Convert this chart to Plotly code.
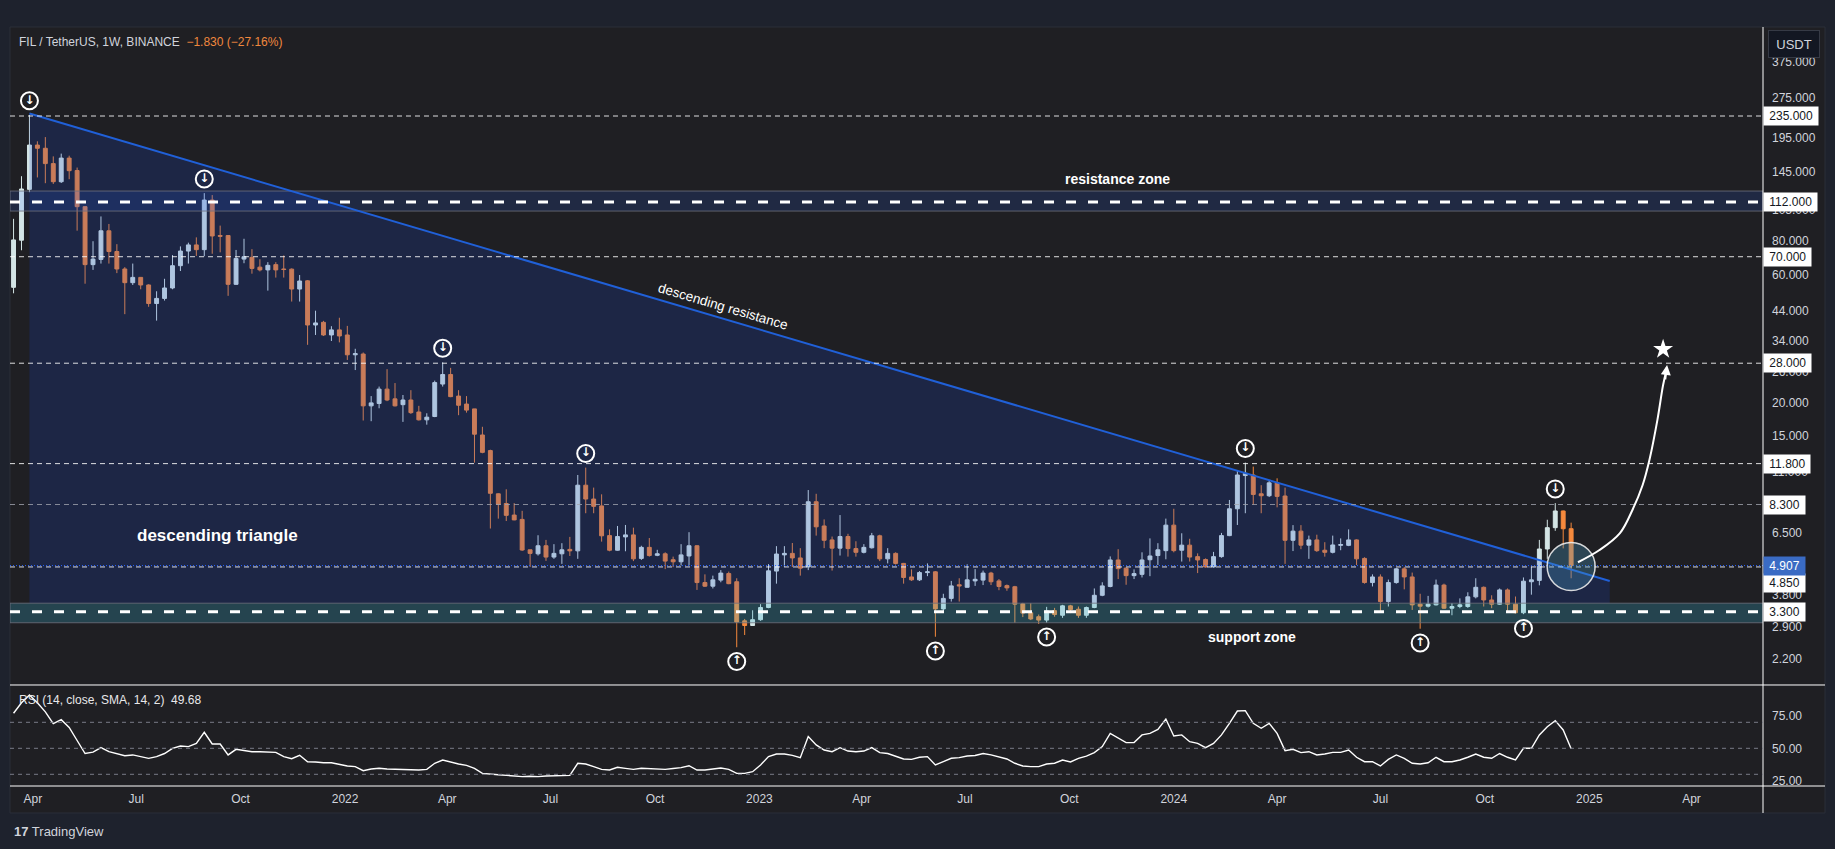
import math

import pandas as pd
import plotly.graph_objects as go

# FIL/USDT weekly candles (Binance), first bar = week of 2021-03-15
opens = [
    53.8, 80.7, 125, 183, 178, 156, 133.5, 163.6, 147, 107.7,
    65.4, 68.4, 87.5, 73.2, 63, 56, 58.6, 54.9, 46.8, 48.9,
    53.5, 64.8, 73.5, 77.5, 74.4, 114, 84, 84, 55.2, 68.6,
    69.6, 64, 62.5, 65.4, 63, 62.9, 53, 56.9, 38.9, 39.8,
    35.7, 37.3, 35.7, 30.1, 30.3, 19.4, 19.8, 22.4, 20.6, 19.6,
    20.4, 18.4, 17.2, 17.7, 23.4, 25.4, 21.1, 19.7, 18.9, 15.1,
    13.2, 9.1, 8.37, 7.58, 7.3, 5.62, 5.43, 5.82, 5.28, 5.43,
    5.64, 5.57, 9.8, 8.7, 8.2, 6.35, 5.6, 6.28, 6.39, 5.22,
    5.74, 5.36, 5.43, 5.16, 5.07, 5.33, 5.82, 4.24, 4.11, 4.33,
    4.58, 4.27, 3.05, 2.93, 3.08, 3.42, 4.68, 5.38, 5.45, 5.24,
    4.85, 8.5, 6.9, 6.12, 5.7, 6.3, 5.68, 5.5, 5.72, 6.34,
    5.2, 5.45, 5.0, 4.45, 4.34, 4.62, 4.65, 3.38, 3.7, 4.16,
    4.07, 4.3, 4.33, 4.6, 4.3, 4.13, 4.09, 3.53, 3.27, 3.16,
    3.07, 3.33, 3.2, 3.47, 3.37, 3.2, 3.42, 3.8, 4.1, 5.15,
    4.8, 4.5, 4.55, 5.16, 5.35, 5.58, 6.95, 5.6, 5.85, 5.3,
    5.17, 4.85, 5.3, 6.35, 8.0, 10.65, 10.7, 9.1, 8.95, 10.0,
    8.93, 6.1, 6.6, 5.85, 6.12, 5.6, 5.5, 5.84, 5.84, 6.12,
    5.22, 4.24, 4.45, 3.6, 4.24, 4.77, 4.45, 3.52, 3.46, 3.5,
    4.15, 3.4, 3.45, 3.45, 3.75, 4.07, 3.65, 3.52, 3.98, 3.52,
    3.27, 4.27, 4.32, 5.66, 6.8, 7.85, 6.74,
]
highs = [
    97, 140, 237, 189, 196, 166, 170, 167, 150.8, 108,
    80, 99, 92.8, 78, 64, 66, 58.8, 55.2, 52, 57.9,
    71, 76.5, 79, 82.7, 121, 119, 91.5, 84.2, 74.2, 81.7,
    74.7, 68.5, 66.8, 66.8, 70.8, 63.3, 59.8, 57.3, 44, 40.3,
    38.5, 41.4, 38.6, 31.7, 30.7, 21.1, 22.9, 26.6, 23.6, 21.3,
    22.2, 19.4, 18.2, 24.1, 28.2, 26.9, 22.2, 21.1, 18.9, 16.2,
    13.3, 9.14, 9.46, 8.4, 7.86, 5.62, 6.37, 6.12, 5.9, 5.95,
    6.28, 10.7, 11.4, 9.6, 9.06, 6.7, 6.9, 6.96, 6.8, 5.82,
    6.22, 5.62, 5.5, 5.3, 5.9, 6.54, 5.85, 4.55, 4.5, 4.72,
    4.66, 4.4, 3.1, 3.34, 3.52, 4.97, 5.8, 5.8, 5.96, 5.7,
    9.4, 9.1, 7.3, 6.3, 7.58, 6.45, 6.05, 5.9, 6.5, 6.4,
    5.7, 5.5, 5.02, 4.75, 4.68, 5.0, 4.68, 3.85, 4.3, 4.4,
    4.96, 4.76, 4.7, 4.65, 4.37, 4.17, 4.12, 3.56, 3.55, 3.22,
    3.44, 3.41, 3.5, 3.5, 3.45, 3.45, 4.03, 4.25, 5.31, 5.65,
    4.83, 4.75, 5.5, 6.2, 5.95, 7.35, 8.0, 6.48, 6.18, 5.45,
    5.22, 5.52, 6.5, 8.63, 11.1, 11.9, 11.5, 9.8, 10.2, 10.4,
    9.6, 6.95, 6.95, 6.35, 6.4, 6.0, 6.35, 6.2, 6.7, 6.15,
    5.27, 4.55, 4.55, 4.35, 4.8, 4.85, 4.62, 3.85, 3.78, 4.35,
    4.2, 3.55, 3.7, 3.9, 4.4, 4.1, 3.8, 4.03, 4.03, 3.76,
    4.43, 4.87, 6.12, 7.28, 8.4, 7.88, 7.1,
]
lows = [
    51.1, 74, 122, 138.5, 131.8, 131, 132, 136.4, 87.6, 55.5,
    62.5, 66, 66, 60.8, 42.7, 54.9, 52.9, 45.5, 40.4, 48,
    52.9, 61.9, 66, 70.5, 70.3, 71.8, 72.7, 50, 54.9, 66.2,
    60.5, 61.7, 52.3, 58.5, 58.5, 47.6, 47.6, 32.8, 35.7, 35.4,
    33.9, 33.5, 28.8, 26.4, 17.1, 17.0, 19.0, 20.2, 19.3, 16.9,
    18.1, 17.1, 16.5, 17.6, 22.9, 20.9, 17.9, 18.3, 11.9, 12.9,
    6.75, 7.35, 7.2, 7.25, 5.57, 4.85, 5.35, 5.11, 5.2, 4.98,
    5.33, 5.2, 7.7, 7.7, 6.03, 5.55, 5.58, 5.55, 5.1, 5.15,
    5.3, 5.32, 4.76, 4.84, 4.91, 4.91, 3.98, 4.08, 4.03, 4.25,
    4.18, 2.43, 2.7, 2.92, 3.05, 3.4, 4.2, 4.86, 4.85, 4.5,
    4.72, 6.35, 5.7, 4.7, 5.35, 5.3, 5.3, 5.45, 5.68, 5.1,
    5.0, 4.95, 4.2, 4.3, 4.3, 4.48, 2.66, 3.28, 3.6, 3.6,
    4.07, 4.12, 4.15, 4.15, 3.97, 3.95, 3.0, 3.15, 3.07, 2.97,
    3.0, 3.16, 3.13, 3.26, 3.13, 3.13, 3.4, 3.77, 4.07, 4.37,
    4.16, 4.37, 4.43, 4.48, 4.93, 5.18, 5.5, 5.08, 5.08, 4.6,
    4.82, 4.82, 5.25, 6.32, 6.96, 7.7, 8.3, 7.7, 8.85, 8.1,
    4.98, 5.56, 5.65, 5.2, 5.52, 5.3, 5.45, 5.6, 5.8, 4.93,
    4.2, 4.1, 3.3, 3.45, 4.2, 4.0, 3.35, 2.85, 3.42, 3.48,
    3.38, 3.2, 3.4, 3.41, 3.7, 3.45, 3.4, 3.5, 3.27, 3.25,
    3.23, 3.82, 4.14, 5.2, 6.62, 5.69, 4.4,
]
closes = [
    80.9, 125.4, 183, 178, 156, 133.5, 163.6, 146.8, 107.7, 65.4,
    68.6, 87.5, 73.2, 63, 56, 58.6, 54.9, 46.8, 48.9, 53.5,
    64.8, 73.5, 77.5, 74.4, 114, 83.7, 83.5, 55.2, 69, 70,
    63.3, 62.5, 65, 62.5, 62.7, 53, 56.8, 38.9, 39.6, 35.7,
    37.3, 35.4, 30.1, 30.4, 19.4, 19.9, 22.4, 20.4, 19.4, 20.4,
    18.3, 17.2, 17.6, 23.7, 25.4, 21.0, 19.5, 18.7, 15.2, 13.0,
    9.14, 8.3, 7.56, 7.27, 5.61, 5.45, 5.82, 5.28, 5.45, 5.62,
    5.57, 9.8, 8.7, 8.17, 6.34, 5.6, 6.3, 6.39, 5.2, 5.74,
    5.35, 5.43, 5.1, 5.07, 5.38, 5.82, 4.24, 4.11, 4.34, 4.6,
    4.2, 3.02, 2.93, 3.08, 3.42, 4.69, 5.42, 5.45, 5.24, 4.8,
    8.5, 6.85, 6.1, 5.7, 6.3, 5.68, 5.5, 5.74, 6.34, 5.2,
    5.45, 5.0, 4.43, 4.34, 4.62, 4.65, 3.38, 3.7, 4.12, 4.12,
    4.34, 4.36, 4.6, 4.27, 4.1, 4.05, 3.52, 3.26, 3.1, 3.07,
    3.32, 3.22, 3.47, 3.36, 3.2, 3.42, 3.8, 4.12, 5.15, 4.78,
    4.5, 4.58, 5.15, 5.33, 5.62, 6.95, 5.58, 5.85, 5.28, 5.15,
    4.85, 5.3, 6.35, 8.0, 10.7, 10.85, 9.05, 8.95, 10.0, 8.9,
    6.1, 6.6, 5.85, 6.12, 5.58, 5.5, 5.86, 5.88, 6.12, 5.2,
    4.24, 4.45, 3.6, 4.24, 4.77, 4.45, 3.5, 3.46, 3.52, 4.15,
    3.4, 3.45, 3.5, 3.75, 4.07, 3.65, 3.52, 3.98, 3.52, 3.27,
    4.29, 4.34, 5.66, 6.8, 7.85, 6.737, 4.907,
]
rsi = [
    77, 85, 91, 85, 78, 69, 72, 66, 56, 46,
    47, 50.5, 47.4, 45.6, 44.3, 44.9, 43.6, 42.3, 43.6, 46,
    50, 51.8, 51.3, 53.8, 62.3, 53.3, 53.3, 44.9, 49.2, 48.2,
    47.4, 47.4, 46.9, 46.9, 43.6, 42, 44.6, 39.7, 39.5, 38.9,
    38.9, 37.7, 36.4, 35.9, 32.8, 34.1, 34.6, 34.1, 33.8, 33.5,
    33.3, 33.3, 33.8, 38.5, 41, 39.2, 37.9, 36.9, 34.6, 30.7,
    30, 29.7, 29.2, 28.8, 28.2, 28.5, 28.2, 28.7, 28.7, 29,
    29.2, 38.5, 37.9, 35.9, 33.8, 33.3, 35.4, 34.6, 33.8, 34.6,
    34.3, 34.3, 33.8, 34.5, 35.1, 36.6, 33.3, 33.3, 34.3, 34.8,
    33.8, 30.7, 30.7, 32, 37.2, 43.6, 45.6, 45.6, 44.6, 42.8,
    59, 52.6, 48.7, 47.4, 50.5, 47.9, 47.4, 47.9, 50.5, 46.7,
    46, 43.6, 41.8, 41.5, 43.1, 43.6, 37.2, 39.7, 42.3, 42.8,
    44.1, 44.5, 46, 44.9, 43.6, 41.8, 38.5, 36.4, 35.9, 35.9,
    37.9, 38.5, 41, 39.5, 42.3, 44, 46.7, 51.3, 61.5, 57.7,
    54.4, 54.4, 60.3, 61.5, 64.6, 72.5, 59.5, 60.3, 55.1, 53.8,
    50.5, 53.8, 60.3, 69.2, 78.7, 79, 69.2, 65.4, 69.2, 61.5,
    48.2, 49.2, 46.7, 47.4, 44.9, 45.6, 46.9, 46.9, 48.7, 43.1,
    39.7, 39.7, 36.4, 41.5, 44.9, 42.3, 38.5, 37.9, 38.9, 43.1,
    39.7, 39.7, 41, 43.1, 45.6, 43.1, 42.3, 46, 43.1, 41,
    50, 50, 60.3, 66.6, 71.3, 64.1, 49.68,
]

price_ticks = [2.2, 2.9, 3.8, 6.5, 11, 15, 20, 26, 34, 44, 60, 80, 105, 145, 195, 275, 375]
time_ticks = ["2021-04-01", "2021-07-01", "2021-10-01", "2022-01-01", "2022-04-01", "2022-07-01",
              "2022-10-01", "2023-01-01", "2023-04-01", "2023-07-01", "2023-10-01", "2024-01-01",
              "2024-04-01", "2024-07-01", "2024-10-01", "2025-01-01", "2025-04-01"]
time_labels = ["Apr", "Jul", "Oct", "2022", "Apr", "Jul", "Oct", "2023", "Apr", "Jul", "Oct",
               "2024", "Apr", "Jul", "Oct", "2025", "Apr"]

# drawings
level_lines = [235, 70, 28, 11.8, 4.85]
zone_lines = [112, 3.3]
soft_line = 8.3
last_price = 4.907
resistance_zone = [103.7, 123.2]
support_zone = [3.0, 3.55]
tri_dates = ["2021-03-29", "2025-01-19"]
tri_prices = [240, 4.3]
top_pivots = [2, 24, 54, 72, 155, 194]
bottom_pivots = [91, 116, 130, 177, 190]
path_dates = ["2024-12-22", "2025-01-10", "2025-01-28", "2025-02-08", "2025-02-17",
              "2025-02-23", "2025-03-02", "2025-03-07", "2025-03-10"]
path_prices = [5.05, 5.61, 6.49, 7.92, 9.82, 12.2, 17.2, 23.2, 26.4]
target_date, target_price = "2025-03-07", 31.6

dates = pd.date_range("2021-03-15", periods=len(closes), freq="W-MON")

X0, X1 = "2021-03-11 21:00", "2025-06-03"
BG = "#1f1f23"
FRAME = "#1e222d"
UP = "#d4e5e5"
DOWN = "#f68a3d"
TXT = "#d1d4dc"
D = 0.13307  # rsi pane height (paper)


def lg(v):
    return math.log10(v)


fig = go.Figure()

fig.add_trace(go.Candlestick(
    x=dates, open=opens, high=highs, low=lows, close=closes,
    increasing=dict(line=dict(color=UP, width=1), fillcolor=UP),
    decreasing=dict(line=dict(color=DOWN, width=1), fillcolor=DOWN),
    whiskerwidth=0, hoverinfo="skip",
))

# triangle shading
fig.add_trace(go.Scatter(
    x=[tri_dates[0], tri_dates[1], tri_dates[1], tri_dates[0], tri_dates[0]],
    y=[tri_prices[0], tri_prices[1], support_zone[1], support_zone[1], tri_prices[0]],
    fill="toself", fillcolor="rgba(26,71,206,0.2)", line=dict(width=0), mode="lines",
    hoverinfo="skip",
))

# zones
for lo, hi, col in [(resistance_zone[0], resistance_zone[1], "rgba(41,98,255,0.15)"),
                    (support_zone[0], support_zone[1], "rgba(56,178,210,0.25)")]:
    fig.add_trace(go.Scatter(
        x=[X0, X1, X1, X0, X0], y=[lo, lo, hi, hi, lo], fill="toself", fillcolor=col,
        line=dict(color="rgba(110,113,125,0.8)", width=1), mode="lines", hoverinfo="skip",
    ))

# descending resistance line
fig.add_trace(go.Scatter(x=tri_dates, y=tri_prices, mode="lines",
                         line=dict(color="#2060d8", width=2), hoverinfo="skip"))

for v in level_lines:
    fig.add_trace(go.Scatter(x=[X0, X1], y=[v, v], mode="lines", hoverinfo="skip",
                             line=dict(color="rgba(255,255,255,0.85)", width=1, dash="5px,4px")))
for v in zone_lines:
    fig.add_trace(go.Scatter(x=[X0, X1], y=[v, v], mode="lines", hoverinfo="skip",
                             line=dict(color="#ffffff", width=3, dash="10px,12px")))
fig.add_trace(go.Scatter(x=[X0, X1], y=[soft_line, soft_line], mode="lines", hoverinfo="skip",
                         line=dict(color="rgba(160,163,172,0.8)", width=1, dash="5px,4px")))
fig.add_trace(go.Scatter(x=[X0, X1], y=[last_price, last_price], mode="lines", hoverinfo="skip",
                         line=dict(color="#2962ff", width=1, dash="1px,2px")))

# highlight circle on last bar
fig.add_trace(go.Scatter(
    x=[dates[-1]], y=[4.87], mode="markers", hoverinfo="skip",
    marker=dict(size=48, color="rgba(72,150,190,0.32)", line=dict(color="rgba(235,235,235,0.9)", width=1.5)),
))

# projected path + target
fig.add_trace(go.Scatter(x=path_dates, y=path_prices, mode="lines", hoverinfo="skip",
                         line=dict(color="#ffffff", width=2, shape="spline")))
fig.add_trace(go.Scatter(x=[target_date], y=[target_price], mode="markers", hoverinfo="skip",
                         marker=dict(symbol="star", size=15, color="#ffffff")))

# pivot markers
for idxs, arrow, factor in [(top_pivots, "↓", 1.13), (bottom_pivots, "↑", 1 / 1.13)]:
    px_ = [dates[i] for i in idxs]
    py_ = [(highs[i] if factor > 1 else lows[i]) * factor for i in idxs]
    fig.add_trace(go.Scatter(
        x=px_, y=py_, mode="markers+text", text=[arrow] * len(idxs), textposition="middle center",
        textfont=dict(family="DejaVu Sans", size=12, color="#ffffff", weight="bold"),
        hoverinfo="skip",
        marker=dict(symbol="circle-open", size=17, color="#ffffff", line=dict(width=2)),
    ))

# RSI pane
fig.add_trace(go.Scatter(x=dates, y=rsi, yaxis="y2", mode="lines", hoverinfo="skip",
                         line=dict(color="#ffffff", width=1.4)))

shapes = [
    dict(type="rect", xref="paper", yref="paper", x0=0, x1=1.03537, y0=-0.03557, y1=1,
         fillcolor=BG, line=dict(color="#2a2e39", width=1), layer="below"),
    dict(type="line", xref="paper", yref="paper", x0=0, x1=1.03537, y0=D, y1=D,
         line=dict(color="#ffffff", width=1)),
    dict(type="line", xref="paper", yref="paper", x0=0, x1=1.03537, y0=0, y1=0,
         line=dict(color="#ffffff", width=1)),
    dict(type="line", xref="paper", yref="paper", x0=1, x1=1, y0=-0.03557, y1=1,
         line=dict(color="#ffffff", width=1)),
]
for v in [70, 50, 30]:
    shapes.append(dict(type="line", xref="paper", yref="y2", x0=0, x1=1, y0=v, y1=v,
                       line=dict(color="#787b86", width=1, dash="4px,4px")))

ann = [
    dict(xref="paper", yref="paper", x=0.004, y=0.9802, xanchor="left", yanchor="middle",
         text="FIL / TetherUS, 1W, BINANCE  <span style='color:#f0883e'>−1.830 (−27.16%)</span>",
         showarrow=False, font=dict(size=12, color=TXT)),
    dict(xref="paper", yref="paper", x=0.004, y=0.1133, xanchor="left", yanchor="middle",
         text="RSI (14, close, SMA, 14, 2)  49.68", showarrow=False,
         font=dict(size=12, color="#e8e8ea")),
    dict(xref="paper", yref="paper", x=1.0177, y=0.9776, xanchor="center", yanchor="middle",
         text="USDT", showarrow=False, bgcolor="#131722", bordercolor="#363a45", borderwidth=1,
         width=44, height=20, borderpad=3, font=dict(size=13, color=TXT)),
    dict(xref="paper", yref="paper", x=0.001, y=-0.0606, xanchor="left", yanchor="middle",
         text="<b>17</b> TradingView", showarrow=False, font=dict(size=13, color=TXT)),
    dict(x="2021-09-11", y=lg(6.33), text="<b>descending triangle</b>", showarrow=False,
         font=dict(size=17, color="#ffffff")),
    dict(x="2023-11-12", y=lg(136.7), text="<b>resistance zone</b>", showarrow=False,
         font=dict(size=14, color="#ffffff")),
    dict(x="2024-03-10", y=lg(2.65), text="<b>support zone</b>", showarrow=False,
         font=dict(size=14, color="#ffffff")),
    dict(x="2022-11-30", y=lg(45.8), text="descending resistance", showarrow=False,
         textangle=16.5, font=dict(size=13.5, color="#ffffff")),
    dict(x="2025-03-10 12:00", y=lg(27.6), text="", showarrow=True, ax=-2, ay=16,
         arrowhead=2, arrowsize=1, arrowwidth=2, arrowcolor="#ffffff"),
]

labels = [(235, "235.000", 0), (112, "112.000", 0), (70, "70.000", 0), (28, "28.000", 0),
          (11.8, "11.800", 0), (8.3, "8.300", 0), (4.85, "4.850", -16), (3.3, "3.300", 0)]
for v, t, shift in labels:
    ann.append(dict(xref="paper", yref="y", x=1, y=lg(v), xanchor="left", yanchor="middle",
                    yshift=shift, text="\u00a0" + t + "\u00a0", showarrow=False,
                    bgcolor="#ffffff", borderpad=2, font=dict(size=12, color="#131722")))
ann.append(dict(xref="paper", yref="y", x=1, y=lg(last_price), xanchor="left", yanchor="middle",
                text="\u00a0" + "4.907" + "\u00a0", showarrow=False, bgcolor="#3a6bc4",
                borderpad=2, font=dict(size=12, color="#ffffff")))

fig.update_layout(
    width=1835, height=849,
    margin=dict(l=10, r=72, t=27, b=63),
    paper_bgcolor=FRAME, plot_bgcolor=BG,
    showlegend=False,
    font=dict(family="Liberation Sans", size=12, color=TXT),
    xaxis=dict(domain=[0, 1], anchor="y2", type="date", range=[X0, X1],
               rangeslider=dict(visible=False), showgrid=False, zeroline=False, showline=False,
               tickvals=time_ticks, ticktext=time_labels, ticks="", ticklabelstandoff=4,
               tickfont=dict(size=12, color=TXT)),
    yaxis=dict(domain=[D, 1], anchor="x", side="right", type="log", range=[0.2445, 2.7037],
               showgrid=False, zeroline=False, showline=False, ticks="",
               tickvals=price_ticks, ticktext=[f"{v:.3f}" for v in price_ticks],
               ticklabelstandoff=8, tickfont=dict(size=12, color=TXT)),
    yaxis2=dict(domain=[0, D], anchor="x", side="right", range=[21.0, 98.7],
                showgrid=False, zeroline=False, showline=False, ticks="",
                tickvals=[25, 50, 75], ticktext=["25.00", "50.00", "75.00"],
                ticklabelstandoff=8, tickfont=dict(size=12, color=TXT)),
    shapes=shapes,
    annotations=ann,
)

fig.write_html(
    "out.html",
    config={"displayModeBar": False},
    post_script="document.body.style.margin='0';document.body.style.overflow='hidden';"
                "document.body.style.background='#1e222d';",
)
